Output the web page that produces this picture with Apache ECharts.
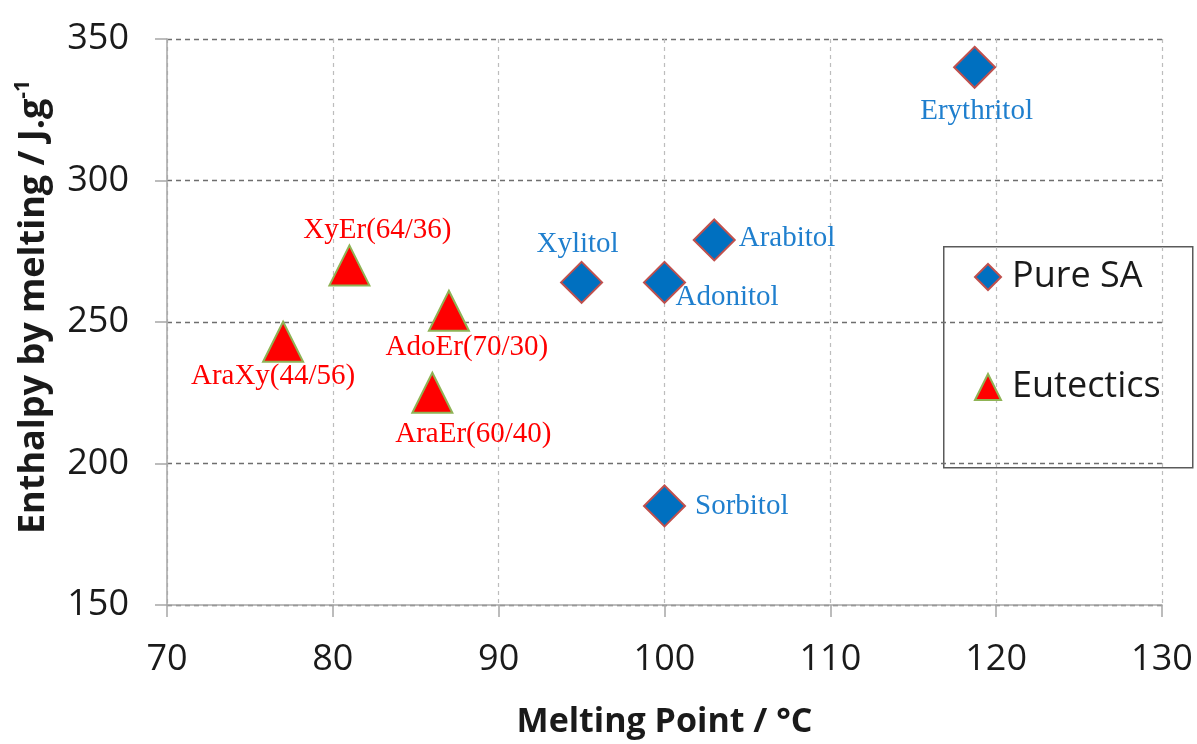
<!DOCTYPE html>
<html>
<head>
<meta charset="utf-8">
<script src="https://cdn.jsdelivr.net/npm/echarts@6/dist/echarts.min.js"></script>
<style>
  html, body { margin: 0; padding: 0; background: #ffffff; }
  #chart { width: 1197px; height: 744px; }
</style>
</head>
<body>
<div id="chart"></div>
<script>
// Pure sugar alcohols (SA)
const pureNames = ['Erythritol', 'Arabitol', 'Xylitol', 'Adonitol', 'Sorbitol'];
const pureMelting = [118.7, 103, 95, 100, 100];      // °C
const pureEnthalpy = [340, 279, 264, 264, 185];     // J/g

// Eutectic mixtures
const eutNames = ['XyEr(64/36)', 'AdoEr(70/30)', 'AraXy(44/56)', 'AraEr(60/40)'];
const eutMelting = [81, 87, 77, 86];                // °C
const eutEnthalpy = [270, 254, 243, 225];           // J/g

// Axis ranges
const xRange = { min: 70, max: 130, step: 10 };
const yRange = { min: 150, max: 350, step: 50 };

// Where each point's label sits relative to its marker
const labelPlacement = {
  'Erythritol':   { position: 'inside', offset: [2, 44] },
  'Arabitol':     { position: 'right', distance: 3, offset: [0, -2] },
  'Xylitol':      { position: 'inside', offset: [-4, -38] },
  'Adonitol':     { position: 'inside', align: 'left', offset: [11, 15] },
  'Sorbitol':     { position: 'right', distance: 9, offset: [0, 0] },
  'XyEr(64/36)':  { position: 'inside', offset: [28, -35] },
  'AdoEr(70/30)': { position: 'inside', offset: [18, 37] },
  'AraXy(44/56)': { position: 'inside', offset: [-10, 35] },
  'AraEr(60/40)': { position: 'inside', offset: [41, 42] }
};

function buildPoints(names, xs, ys) {
  return names.map((n, i) => ({
    name: n,
    value: [xs[i], ys[i]],
    label: Object.assign({ show: true, formatter: n }, labelPlacement[n])
  }));
}

const serifFont = '"Liberation Serif", "Times New Roman", serif';
const sansFont = '"Open Sans", "Noto Sans", sans-serif';

const chart = echarts.init(document.getElementById('chart'), null, { renderer: 'canvas' });

chart.setOption({
  animation: false,
  backgroundColor: '#ffffff',
  grid: { left: 167, right: 35, top: 39, bottom: 137, containLabel: false },
  xAxis: {
    type: 'value',
    min: xRange.min, max: xRange.max, interval: xRange.step,
    name: 'Melting Point / °C',
    nameLocation: 'middle',
    nameGap: 100,
    nameTextStyle: { fontFamily: sansFont, fontWeight: 'bold', fontSize: 34, color: '#1a1a1a' },
    axisLine: { show: true, lineStyle: { color: '#a6a6a6', width: 1.5 } },
    axisTick: { show: true, inside: false, length: 12, lineStyle: { color: '#a6a6a6', width: 1.5 } },
    axisLabel: { margin: 37, fontFamily: sansFont, fontSize: 36, color: '#1a1a1a' },
    splitLine: { show: true, lineStyle: { color: '#bdbdbd', width: 1.2, type: [4, 4] } }
  },
  yAxis: {
    type: 'value',
    min: yRange.min, max: yRange.max, interval: yRange.step,
    name: '{t|Enthalpy by melting / J.g}{s|-1}',
    nameLocation: 'middle',
    nameRotate: 90,
    nameGap: 112,
    nameTextStyle: {
      padding: [0, 0, 0, 30],
      rich: {
        t: { fontFamily: sansFont, fontWeight: 'bold', fontSize: 36, color: '#1a1a1a', lineHeight: 42 },
        s: { fontFamily: sansFont, fontWeight: 'bold', fontSize: 21, color: '#1a1a1a', verticalAlign: 'top', lineHeight: 42 }
      }
    },
    axisLine: { show: true, lineStyle: { color: '#a6a6a6', width: 1.5 } },
    axisTick: { show: true, inside: false, length: 12, lineStyle: { color: '#a6a6a6', width: 1.5 } },
    axisLabel: { margin: 38, fontFamily: sansFont, fontSize: 36, color: '#1a1a1a' },
    splitLine: { show: true, lineStyle: { color: '#6e6e6e', width: 1.3, type: [5, 4] } }
  },
  legend: {
    orient: 'vertical',
    left: 974,
    top: 255,
    padding: 0,
    itemGap: 66,
    itemWidth: 26,
    itemHeight: 26,
    textStyle: { fontFamily: sansFont, fontSize: 36, color: '#1a1a1a', lineHeight: 44, padding: [0, 0, 0, 6] },
    data: ['Pure SA', 'Eutectics']
  },
  graphic: [{
    type: 'rect',
    left: 943, top: 246,
    shape: { width: 249, height: 221 },
    style: { fill: '#ffffff', stroke: '#5a5a5a', lineWidth: 1.5 },
    z: -1
  }],
  series: [
    {
      name: 'Pure SA',
      type: 'scatter',
      symbol: 'diamond',
      symbolSize: [41, 41],
      itemStyle: { color: '#0070c0', borderColor: '#c0504d', borderWidth: 2, opacity: 1 },
      label: { fontFamily: serifFont, fontSize: 29, color: '#1f7fce' },
      data: buildPoints(pureNames, pureMelting, pureEnthalpy),
      z: 5
    },
    {
      name: 'Eutectics',
      type: 'scatter',
      symbol: 'triangle',
      symbolSize: [40, 40],
      itemStyle: { color: '#ff0000', borderColor: '#8fb355', borderWidth: 2, opacity: 1 },
      label: { fontFamily: serifFont, fontSize: 29, color: '#ff0000' },
      data: buildPoints(eutNames, eutMelting, eutEnthalpy),
      z: 5
    }
  ]
});
</script>
</body>
</html>
